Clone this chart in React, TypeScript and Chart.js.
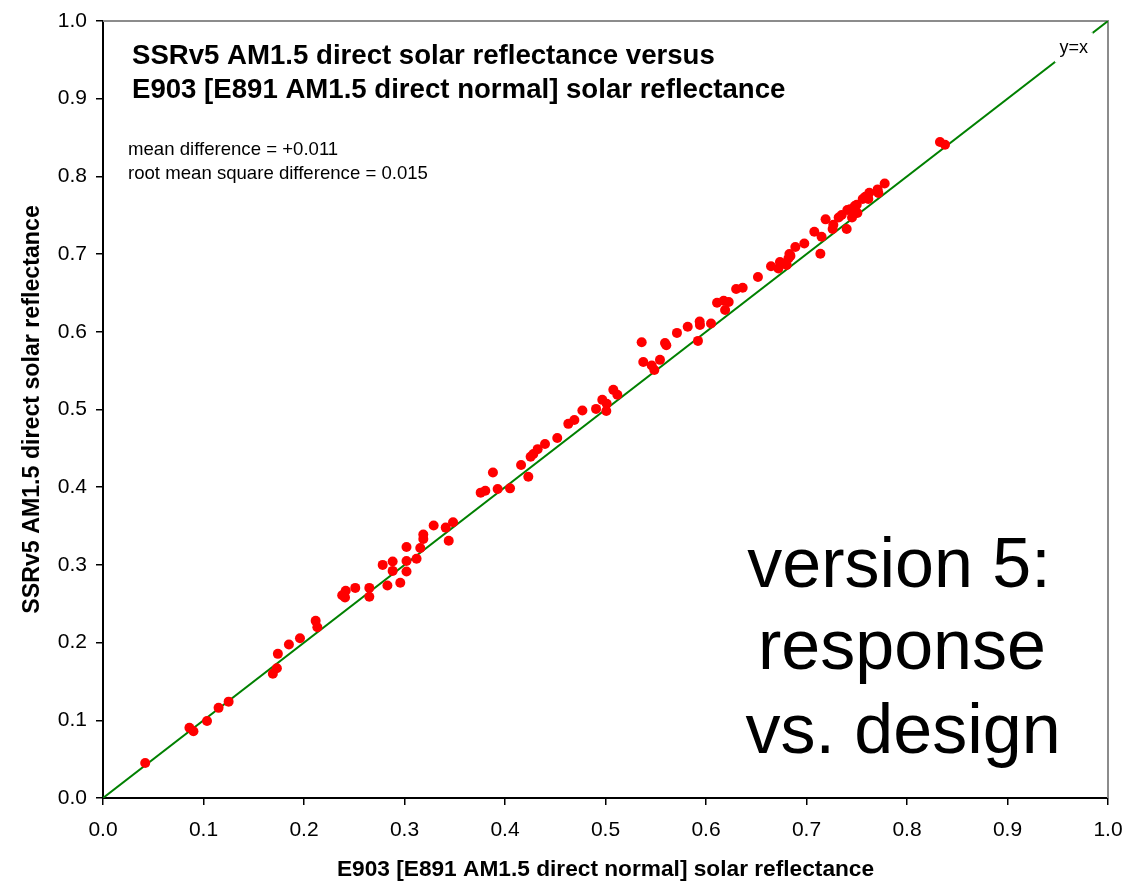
import { useEffect, useRef } from "react";
import { Chart, registerables } from "chart.js";

Chart.register(...registerables);

// E903 [E891 AM1.5 direct normal] solar reflectance (design)
const designX = [
  0.042, 0.086, 0.09, 0.1035, 0.115, 0.125, 0.169, 0.173, 0.174, 0.185,
  0.196, 0.2116, 0.2133, 0.238, 0.2415, 0.2408, 0.251, 0.265, 0.265, 0.2783,
  0.283, 0.2882, 0.2882, 0.2958, 0.302, 0.302, 0.302, 0.312, 0.3157, 0.3187,
  0.3187, 0.329, 0.341, 0.344, 0.3483, 0.3758, 0.3804, 0.388, 0.3927, 0.405,
  0.416, 0.4232, 0.4255, 0.4282, 0.4325, 0.4398, 0.452, 0.463, 0.469, 0.477,
  0.4906, 0.4968, 0.5012, 0.5008, 0.5078, 0.5118, 0.536, 0.5376, 0.546, 0.5486,
  0.5542, 0.5592, 0.5605, 0.5711, 0.5818, 0.592, 0.5937, 0.594, 0.605, 0.611,
  0.6176, 0.6226, 0.619, 0.63, 0.6365, 0.6517, 0.6647, 0.6736, 0.672, 0.6803,
  0.683, 0.684, 0.682, 0.6889, 0.6978, 0.7078, 0.7138, 0.715, 0.719, 0.726,
  0.7267, 0.732, 0.735, 0.74, 0.7406, 0.7433, 0.748, 0.75, 0.7453, 0.7506,
  0.7559, 0.7585, 0.7625, 0.7615, 0.7708, 0.7715, 0.7778, 0.8328, 0.8378,
];

// SSRv5 AM1.5 direct solar reflectance (response)
const responseY = [
  0.045, 0.0905, 0.086, 0.099, 0.116, 0.124, 0.16, 0.167, 0.1855, 0.1975,
  0.2055, 0.228, 0.2197, 0.261, 0.2667, 0.258, 0.2704, 0.2704, 0.259, 0.3,
  0.2735, 0.3044, 0.2923, 0.277, 0.323, 0.305, 0.2915, 0.308, 0.3218, 0.339,
  0.3334, 0.3507, 0.348, 0.331, 0.3548, 0.393, 0.3955, 0.419, 0.3977, 0.3985,
  0.4286, 0.4135, 0.4393, 0.4427, 0.449, 0.4557, 0.4634, 0.4815, 0.4866, 0.4987,
  0.5008, 0.5124, 0.5073, 0.498, 0.5253, 0.519, 0.5865, 0.5611, 0.5566, 0.5508,
  0.5639, 0.5856, 0.5826, 0.5986, 0.6064, 0.5883, 0.6133, 0.6087, 0.6107, 0.6375,
  0.64, 0.6384, 0.628, 0.655, 0.6567, 0.6705, 0.6843, 0.6898, 0.6815, 0.686,
  0.7, 0.6977, 0.6944, 0.7091, 0.7137, 0.7288, 0.7004, 0.7224, 0.7447, 0.7323,
  0.7378, 0.7471, 0.7503, 0.7323, 0.7568, 0.7576, 0.762, 0.7634, 0.7471, 0.753,
  0.7709, 0.7739, 0.7788, 0.7709, 0.7833, 0.7786, 0.7909, 0.8443, 0.8408,
];

const identityX = [0, 1];
const identityY = [0, 1];
const identityLabel = "y=x";
const identityLabelAt = 0.966;

const titleLines = [
  "SSRv5 AM1.5 direct solar reflectance versus",
  "E903 [E891 AM1.5 direct normal] solar reflectance",
];
const statLines = ["mean difference = +0.011", "root mean square difference = 0.015"];
const bigTextLines = ["version 5:", "response", "vs. design"];
const xAxisTitle = "E903 [E891 AM1.5 direct normal] solar reflectance";
const yAxisTitle = "SSRv5 AM1.5 direct solar reflectance";

const FONT = "'Liberation Sans', Arial, Helvetica, sans-serif";

export default function App() {
  const ref = useRef<HTMLCanvasElement | null>(null);

  useEffect(() => {
    if (!ref.current) return;

    const annotations = {
      id: "annotations",
      beforeDatasetsDraw(chart: any) {
        const { ctx, chartArea } = chart;
        ctx.save();
        ctx.strokeStyle = "#8c8c8c";
        ctx.lineWidth = 2;
        ctx.beginPath();
        ctx.moveTo(chartArea.left, chartArea.top);
        ctx.lineTo(chartArea.right, chartArea.top);
        ctx.lineTo(chartArea.right, chartArea.bottom);
        ctx.stroke();
        ctx.restore();
      },
      afterDatasetsDraw(chart: any) {
        const { ctx } = chart;
        const xs = chart.scales.x;
        const ys = chart.scales.y;
        const cx = xs.getPixelForValue(identityLabelAt);
        const cy = ys.getPixelForValue(identityLabelAt);
        ctx.save();
        ctx.fillStyle = "#ffffff";
        ctx.fillRect(cx - 19, cy - 15, 38, 30);
        ctx.fillStyle = "#000000";
        ctx.font = `18px ${FONT}`;
        ctx.textAlign = "center";
        ctx.textBaseline = "alphabetic";
        ctx.fillText(identityLabel, cx, cy + 6);
        ctx.restore();
      },
      afterDraw(chart: any) {
        const { ctx } = chart;
        ctx.save();
        ctx.fillStyle = "#000000";
        ctx.textBaseline = "alphabetic";
        ctx.textAlign = "left";
        ctx.font = `bold 27.6px ${FONT}`;
        ctx.fillText(titleLines[0], 132, 64);
        ctx.fillText(titleLines[1], 132, 98);
        ctx.font = `18.6px ${FONT}`;
        ctx.fillText(statLines[0], 128, 155);
        ctx.fillText(statLines[1], 128, 179);
        ctx.font = `70px ${FONT}`;
        ctx.textAlign = "center";
        ctx.fillText(bigTextLines[0], 899, 587);
        ctx.fillText(bigTextLines[1], 902, 669);
        ctx.fillText(bigTextLines[2], 903, 753);
        ctx.restore();
      },
    };

    const chart = new Chart(ref.current, {
      type: "scatter",
      data: {
        datasets: [
          {
            label: "data",
            data: designX.map((x, i) => ({ x, y: responseY[i] })),
            backgroundColor: "#ff0000",
            borderColor: "#ff0000",
            pointRadius: 5,
            pointBorderWidth: 0,
            pointHoverRadius: 5,
            order: 0,
          },
          {
            label: "y=x",
            data: identityX.map((x, i) => ({ x, y: identityY[i] })),
            showLine: true,
            borderColor: "#008000",
            borderWidth: 2,
            pointRadius: 0,
            order: 1,
          } as any,
        ],
      },
      options: {
        responsive: false,
        animation: false,
        layout: { padding: { left: 0, top: 21, right: 18, bottom: 0 } },
        plugins: {
          legend: { display: false },
          tooltip: { enabled: false },
          title: { display: false },
        },
        scales: {
          x: {
            type: "linear",
            min: 0,
            max: 1,
            afterFit: (s: any) => {
              s.height = 84;
              s.paddingLeft = 0;
              s.paddingRight = 0;
            },
            ticks: {
              stepSize: 0.1,
              color: "#000",
              font: { family: FONT, size: 21 },
              padding: 13,
              callback: (v: any) => Number(v).toFixed(1),
            },
            grid: {
              display: true,
              drawOnChartArea: false,
              drawTicks: true,
              tickLength: 7,
              color: "#000",
              lineWidth: 1.5,
            },
            border: { display: true, color: "#000", width: 2 },
            title: {
              display: true,
              text: xAxisTitle,
              color: "#000",
              font: { family: FONT, size: 22.7, weight: "bold" },
              padding: { top: 0, bottom: -1 },
            },
          },
          y: {
            type: "linear",
            min: 0,
            max: 1,
            afterFit: (s: any) => {
              s.width = 103;
              s.paddingTop = 0;
              s.paddingBottom = 0;
            },
            ticks: {
              stepSize: 0.1,
              color: "#000",
              font: { family: FONT, size: 21 },
              padding: 9,
              callback: (v: any) => Number(v).toFixed(1),
            },
            grid: {
              display: true,
              drawOnChartArea: false,
              drawTicks: true,
              tickLength: 7,
              color: "#000",
              lineWidth: 1.5,
            },
            border: { display: true, color: "#000", width: 2 },
            title: {
              display: true,
              text: yAxisTitle,
              color: "#000",
              font: { family: FONT, size: 23.2, weight: "bold" },
              padding: { top: 19, bottom: 0 },
            },
          },
        },
      },
      plugins: [annotations],
    });

    return () => chart.destroy();
  }, []);

  return (
    <div style={{ position: "fixed", left: 0, top: 0, width: 1126, height: 882, background: "#fff" }}>
      <canvas ref={ref} width={1126} height={882} style={{ display: "block" }} />
    </div>
  );
}
